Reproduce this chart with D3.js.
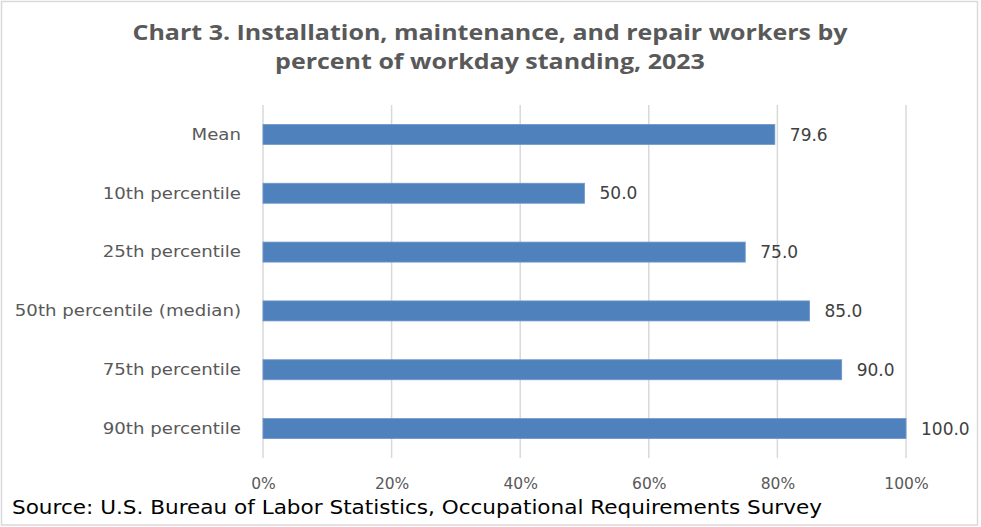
<!DOCTYPE html>
<html>
<head>
<meta charset="utf-8">
<script src="https://cdn.jsdelivr.net/npm/d3@7"></script>
<style>
  html, body { margin: 0; padding: 0; background: #fff; overflow: hidden; }
  #chart { width: 981px; height: 527px; }
  #chart svg { display: block; }
</style>
</head>
<body>
<div id="chart"></div>
<script>
// data
const categories = ["Mean", "10th percentile", "25th percentile", "50th percentile (median)", "75th percentile", "90th percentile"];
const values = [79.6, 50.0, 75.0, 85.0, 90.0, 100.0];
const xTicks = [0, 20, 40, 60, 80, 100];
const titleLines = ["Chart 3. Installation, maintenance, and repair workers by", "percent of workday standing, 2023"];
const sourceText = "Source: U.S. Bureau of Labor Statistics, Occupational Requirements Survey";

const width = 981, height = 527;
const margin = { top: 105, right: 75, bottom: 69, left: 263 };
const innerWidth = width - margin.left - margin.right;
const innerHeight = height - margin.top - margin.bottom;

const barColor = "#4f81bd";
const textColor = "#595959";
const labelFont = "'DejaVu Sans', Verdana, sans-serif";

const root = d3.select("#chart")
  .append("svg")
  .attr("width", width)
  .attr("height", height)
  .attr("viewBox", `0 0 ${width} ${height}`);

// title - the original is a wide, stretched bold face, so widen to fit
const title = root.append("g")
  .selectAll("text")
  .data(titleLines)
  .enter()
  .append("text")
  .attr("x", 490)
  .attr("y", (d, i) => 40 + i * 29)
  .attr("text-anchor", "middle")
  .style("font-family", "'Open Sans', sans-serif")
  .style("font-size", "21px")
  .style("font-weight", "bold")
  .style("fill", textColor)
  .text(d => d);
title.each(function() {
  const w = this.getComputedTextLength();
  d3.select(this).attr("textLength", w * 1.19).attr("lengthAdjust", "spacingAndGlyphs");
});

const svg = root.append("g")
  .attr("transform", `translate(${margin.left},${margin.top})`);

const x = d3.scaleLinear()
  .domain([0, 100])
  .range([0, innerWidth]);

const y = d3.scaleBand()
  .domain(categories)
  .range([0, innerHeight])
  .paddingInner(0.66)
  .paddingOuter(0.33);

// vertical gridlines
svg.append("g")
  .selectAll("line")
  .data(xTicks)
  .enter()
  .append("line")
  .attr("x1", d => x(d)).attr("x2", d => x(d))
  .attr("y1", 0).attr("y2", innerHeight)
  .attr("stroke", "#d9d9d9")
  .attr("stroke-width", 1.5);

// x axis labels
const xAxis = svg.append("g")
  .attr("transform", `translate(0,${innerHeight})`)
  .call(d3.axisBottom(x).tickValues(xTicks).tickFormat(d => d + "%").tickSize(0).tickPadding(20));
xAxis.select(".domain").remove();
xAxis.selectAll("text")
  .style("font-family", labelFont)
  .style("font-size", "15.5px")
  .style("fill", textColor);

// y axis labels, widened a little like the original
const yAxis = svg.append("g")
  .call(d3.axisLeft(y).tickSize(0).tickPadding(22));
yAxis.select(".domain").remove();
yAxis.selectAll("text")
  .style("font-family", labelFont)
  .style("font-size", "16.5px")
  .style("fill", textColor)
  .each(function() {
    const w = this.getComputedTextLength();
    d3.select(this).attr("textLength", w * 1.1).attr("lengthAdjust", "spacingAndGlyphs");
  });

// bars
svg.selectAll(".bar")
  .data(values)
  .enter()
  .append("rect")
  .attr("class", "bar")
  .attr("x", x(0))
  .attr("y", (d, i) => y(categories[i]))
  .attr("width", d => x(d) - x(0))
  .attr("height", y.bandwidth())
  .attr("fill", barColor)
  .attr("stroke", "#6d97cc")
  .attr("stroke-width", 0.8);

// value labels
svg.selectAll(".value-label")
  .data(values)
  .enter()
  .append("text")
  .attr("class", "value-label")
  .attr("x", d => x(d) + 15)
  .attr("y", (d, i) => y(categories[i]) + y.bandwidth() / 2)
  .attr("dy", "0.36em")
  .style("font-family", labelFont)
  .style("font-size", "17px")
  .style("fill", "#404040")
  .text(d => d.toFixed(1));

// source line
root.append("text")
  .attr("x", 12)
  .attr("y", 514)
  .attr("textLength", 810)
  .attr("lengthAdjust", "spacingAndGlyphs")
  .style("font-family", labelFont)
  .style("font-size", "19px")
  .style("fill", "#000")
  .text(sourceText);

// outer frame
root.append("rect")
  .attr("x", 1.5).attr("y", 1.5)
  .attr("width", width - 5).attr("height", height - 3.5)
  .attr("fill", "none")
  .attr("stroke", "#d9d9d9")
  .attr("stroke-width", 1.5);
</script>
</body>
</html>
